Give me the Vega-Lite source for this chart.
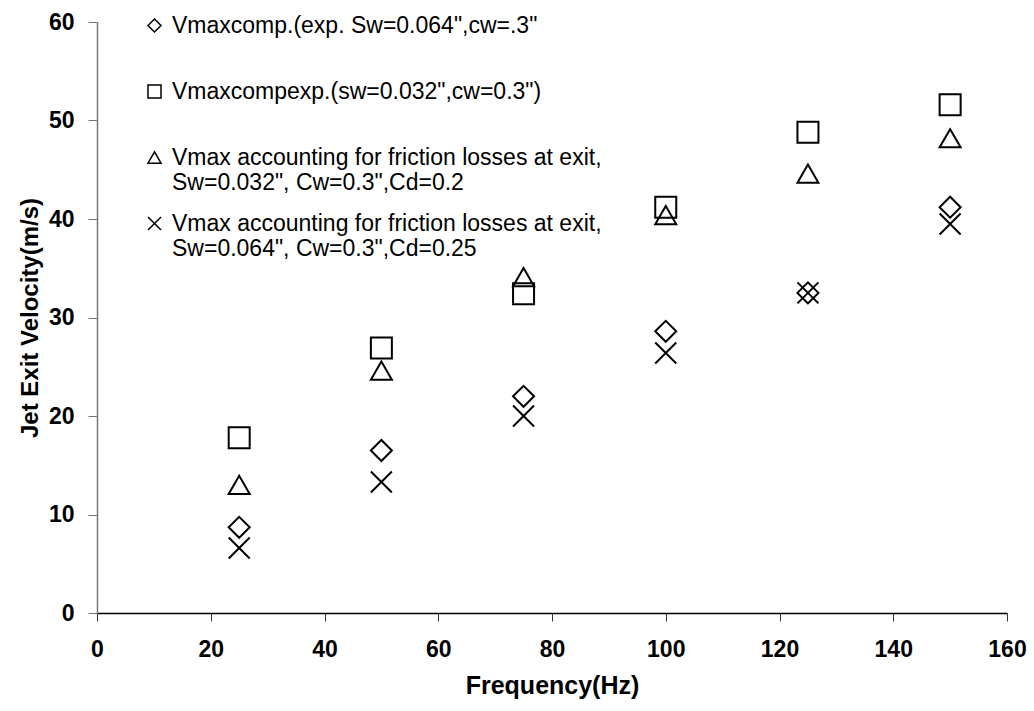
{
  "$schema": "https://vega.github.io/schema/vega-lite/v6.json",
  "width": 910,
  "height": 591,
  "autosize": "none",
  "padding": {"left": 97, "top": 22, "right": 27, "bottom": 98},
  "background": "white",
  "config": {
    "view": {"stroke": null},
    "font": "Liberation Sans"
  },
  "data": {
    "values": [
      {"freq": 25, "series": "s1", "v": 8.7},
      {"freq": 50, "series": "s1", "v": 16.5},
      {"freq": 75, "series": "s1", "v": 22.0},
      {"freq": 100, "series": "s1", "v": 28.6},
      {"freq": 125, "series": "s1", "v": 32.5},
      {"freq": 150, "series": "s1", "v": 41.2},
      {"freq": 25, "series": "s2", "v": 17.8},
      {"freq": 50, "series": "s2", "v": 26.9},
      {"freq": 75, "series": "s2", "v": 32.4},
      {"freq": 100, "series": "s2", "v": 41.2},
      {"freq": 125, "series": "s2", "v": 48.8},
      {"freq": 150, "series": "s2", "v": 51.6},
      {"freq": 25, "series": "s3", "v": 13.0},
      {"freq": 50, "series": "s3", "v": 24.6},
      {"freq": 75, "series": "s3", "v": 34.1},
      {"freq": 100, "series": "s3", "v": 40.4},
      {"freq": 125, "series": "s3", "v": 44.6},
      {"freq": 150, "series": "s3", "v": 48.2},
      {"freq": 25, "series": "s4", "v": 6.6},
      {"freq": 50, "series": "s4", "v": 13.3},
      {"freq": 75, "series": "s4", "v": 20.0},
      {"freq": 100, "series": "s4", "v": 26.4},
      {"freq": 125, "series": "s4", "v": 32.5},
      {"freq": 150, "series": "s4", "v": 39.5}
    ]
  },
  "mark": {"type": "point", "filled": false, "stroke": "black", "strokeWidth": 2, "opacity": 1, "size": 441},
  "encoding": {
    "x": {
      "field": "freq", "type": "quantitative",
      "scale": {"domain": [0, 160], "nice": false, "zero": false},
      "axis": {
        "title": "Frequency(Hz)", "values": [0, 20, 40, 60, 80, 100, 120, 140, 160],
        "grid": false, "domainColor": "black", "domainWidth": 1.5, "tickColor": "#333", "tickWidth": 1, "tickSize": 8,
        "labelFont": "Liberation Sans", "labelFontWeight": "bold", "labelFontSize": 23, "labelColor": "black",
        "labelPadding": 17, "labelFlush": false,
        "titleFont": "Liberation Sans", "titleFontWeight": "bold", "titleFontSize": 25, "titleColor": "black",
        "titlePadding": 12
      }
    },
    "y": {
      "field": "v", "type": "quantitative",
      "scale": {"domain": [0, 60], "nice": false, "zero": false},
      "axis": {
        "title": "Jet Exit Velocity(m/s)", "values": [0, 10, 20, 30, 40, 50, 60],
        "grid": false, "domainColor": "#777", "domainWidth": 1.5, "tickColor": "#777", "tickWidth": 1, "tickSize": 9,
        "labelFont": "Liberation Sans", "labelFontWeight": "bold", "labelFontSize": 23, "labelColor": "black",
        "labelPadding": 14, "labelFlush": false,
        "titleFont": "Liberation Sans", "titleFontWeight": "bold", "titleFontSize": 24, "titleColor": "black",
        "titlePadding": 6
      }
    },
    "shape": {
      "field": "series", "type": "nominal",
      "scale": {
        "domain": ["s1", "s2", "s3", "s4"],
        "range": ["diamond", "square", "triangle-up", "M-1,-1L1,1M-1,1L1,-1"]
      },
      "legend": {
        "title": null,
        "orient": "none",
        "legendX": 46,
        "legendY": -8,
        "padding": 0,
        "symbolSize": 170,
        "symbolStrokeWidth": 1.5,
        "symbolStrokeColor": "black",
        "symbolFillColor": "transparent",
        "labelFont": "Liberation Sans",
        "labelFontSize": 23,
        "labelColor": "black",
        "labelOffset": 6,
        "labelLimit": 0,
        "labelBaseline": "middle",
        "gridAlign": "all",
        "rowPadding": 17,
        "labelExpr": "datum.value == 's1' ? 'Vmaxcomp.(exp. Sw=0.064\",cw=.3\"' : datum.value == 's2' ? 'Vmaxcompexp.(sw=0.032\",cw=0.3\")' : datum.value == 's3' ? ['Vmax accounting for friction losses at exit,', 'Sw=0.032\", Cw=0.3\",Cd=0.2'] : ['Vmax accounting for friction losses at exit,', 'Sw=0.064\", Cw=0.3\",Cd=0.25']",
        "encode": {
          "labels": {"update": {"lineHeight": {"value": 22}}}
        }
      }
    }
  }
}
